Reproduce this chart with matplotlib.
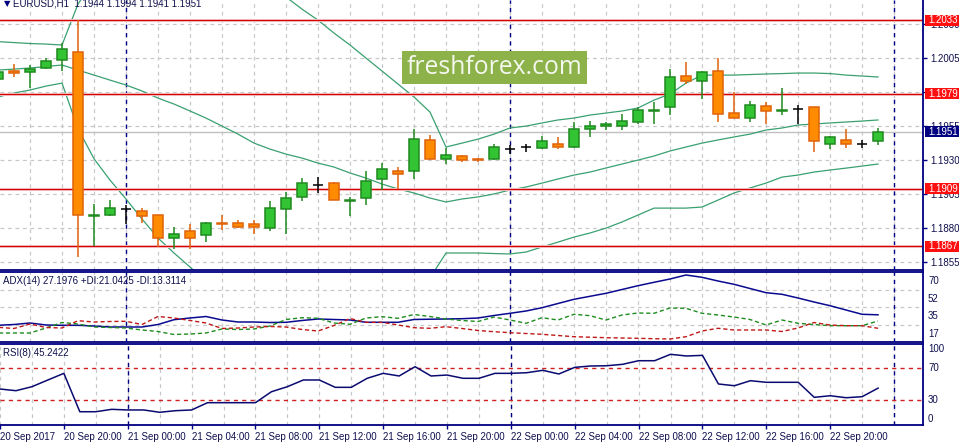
import numpy as np
import matplotlib
matplotlib.use("Agg")
import matplotlib.pyplot as plt
from matplotlib.patches import Rectangle
from matplotlib import transforms as mtrans

plt.rcParams['font.family'] = ['Liberation Sans', 'DejaVu Sans']

# ---------------- data (EURUSD H1, 20 Sep 16:00 .. 22 Sep 23:00) ----------------
opens = [1.1990, 1.1996, 1.1995, 1.1998, 1.2004, 1.2010, 1.1889, 1.1890, 1.1894, 1.1893,
         1.1890, 1.1873, 1.1878, 1.1875, 1.1884, 1.1884, 1.1883, 1.1880, 1.1894, 1.1903,
         1.1912, 1.1913, 1.1900, 1.1902, 1.1916, 1.1922, 1.1922, 1.1945, 1.1931, 1.1933,
         1.1931, 1.1931, 1.1938, 1.1940, 1.1939, 1.1942, 1.1940, 1.1953, 1.1955, 1.1955,
         1.1958, 1.1966, 1.1969, 1.1992, 1.1988, 1.1996, 1.1965, 1.1961, 1.1970, 1.1966,
         1.1968, 1.1969, 1.1942, 1.1945, 1.1942, 1.1944]
highs = [1.1997, 1.2001, 1.2000, 1.2005, 1.2016, 1.2033, 1.1898, 1.1901, 1.1897, 1.1895,
         1.1890, 1.1881, 1.1883, 1.1885, 1.1890, 1.1886, 1.1886, 1.1900, 1.1907, 1.1917,
         1.1918, 1.1914, 1.1903, 1.1922, 1.1928, 1.1925, 1.1953, 1.1949, 1.1939, 1.1934,
         1.1932, 1.1942, 1.1941, 1.1942, 1.1948, 1.1947, 1.1958, 1.1959, 1.1958, 1.1964,
         1.1969, 1.1973, 1.1997, 1.2002, 1.1996, 1.2005, 1.1980, 1.1974, 1.1973, 1.1983,
         1.1971, 1.1969, 1.1948, 1.1953, 1.1945, 1.1954]
lows = [1.1988, 1.1991, 1.1983, 1.1997, 1.1996, 1.1859, 1.1867, 1.1889, 1.1883, 1.1884,
        1.1866, 1.1865, 1.1865, 1.1870, 1.1879, 1.1880, 1.1876, 1.1878, 1.1876, 1.1900,
        1.1906, 1.1901, 1.1889, 1.1897, 1.1908, 1.1909, 1.1916, 1.1930, 1.1927, 1.1929,
        1.1929, 1.1930, 1.1935, 1.1936, 1.1938, 1.1938, 1.1939, 1.1947, 1.1952, 1.1952,
        1.1957, 1.1957, 1.1963, 1.1986, 1.1975, 1.1958, 1.1961, 1.1958, 1.1957, 1.1963,
        1.1957, 1.1936, 1.1938, 1.1939, 1.1939, 1.1941]
closes = [1.1995, 1.1994, 1.1997, 1.2003, 1.2012, 1.1890, 1.1890, 1.1895, 1.1894, 1.1889,
          1.1873, 1.1876, 1.1873, 1.1884, 1.1883, 1.1881, 1.1881, 1.1895, 1.1902, 1.1913,
          1.1912, 1.1901, 1.1901, 1.1915, 1.1924, 1.1920, 1.1946, 1.1931, 1.1934, 1.1930,
          1.1930, 1.1940, 1.1938, 1.1940, 1.1944, 1.1940, 1.1953, 1.1955, 1.1957, 1.1959,
          1.1967, 1.1967, 1.1991, 1.1988, 1.1995, 1.1964, 1.1961, 1.1971, 1.1966, 1.1967,
          1.1968, 1.1944, 1.1947, 1.1942, 1.1942, 1.1951]

bb_upper = [1.20173, 1.20166, 1.20159, 1.20155, 1.20148, 1.20449, 1.20626, 1.20662, 1.20684, 1.20721,
            1.20758, 1.20787, 1.20809, 1.20809, 1.20795, 1.20758, 1.20684, 1.20589, 1.20501, 1.20412,
            1.20331, 1.20236, 1.20148, 1.20052, 1.19957, 1.19861, 1.19766, 1.19655, 1.19398, 1.19427,
            1.19456, 1.19493, 1.19538, 1.19552, 1.19575, 1.19597, 1.19611, 1.19633, 1.19648, 1.19663,
            1.19685, 1.19743, 1.19788, 1.19868, 1.19927, 1.19927, 1.19927, 1.19931, 1.19935, 1.19938,
            1.19942, 1.19942, 1.19938, 1.19927, 1.19920, 1.19913]
bb_middle = [1.19964, 1.19971, 1.19979, 1.19990, 1.20001, 1.19964, 1.19927, 1.19890, 1.19854, 1.19810,
             1.19758, 1.19714, 1.19663, 1.19611, 1.19552, 1.19493, 1.19427, 1.19383, 1.19346, 1.19317,
             1.19280, 1.19251, 1.19207, 1.19170, 1.19126, 1.19090, 1.19060, 1.19023, 1.18994, 1.19016,
             1.19031, 1.19053, 1.19082, 1.19104, 1.19133, 1.19163, 1.19192, 1.19214, 1.19244, 1.19273,
             1.19302, 1.19332, 1.19369, 1.19398, 1.19427, 1.19450, 1.19472, 1.19493, 1.19523, 1.19538,
             1.19560, 1.19567, 1.19575, 1.19582, 1.19589, 1.19597]
bb_lower = [1.19766, 1.19795, 1.19817, 1.19846, 1.19868, 1.19533, 1.19312, 1.19155, 1.19016, 1.18869,
            1.18729, 1.18619, 1.18516, 1.18413, 1.18310, 1.18230, 1.18171, 1.18178, 1.18193, 1.18222,
            1.18230, 1.18266, 1.18266, 1.18288, 1.18296, 1.18318, 1.18354, 1.18435, 1.18619, 1.18619,
            1.18619, 1.18615, 1.18612, 1.18626, 1.18663, 1.18699, 1.18736, 1.18766, 1.18802, 1.18847,
            1.18898, 1.18949, 1.18949, 1.18949, 1.18957, 1.19008, 1.19060, 1.19097, 1.19133, 1.19177,
            1.19192, 1.19214, 1.19229, 1.19243, 1.19258, 1.19273]

adx = [16.7, 17.5, 19, 17, 16.7, 16.7, 16, 15, 15, 15, 17.5, 22.3, 24, 25.5, 22, 20, 20, 19.5, 19.7, 21.5,
       23, 22.5, 22, 19.7, 19.7, 19.7, 22.5, 22.8, 23, 23.3, 24, 26.5, 28.7, 31, 34.3, 38.5, 42.7, 45.7,
       48.7, 52.5, 56.3, 59.7, 63, 67, 64.7, 61, 57.7, 53.5, 49.3, 47.7, 44, 40, 36.3, 32, 27.7, 27.2]
plus_di = [9, 9, 9, 14, 19.5, 18, 15, 14.5, 14, 12, 10.5, 7.5, 8, 9, 13, 12.5, 13, 16, 22.5, 24.3,
           23.7, 19, 17.7, 24, 25.3, 23.7, 27.5, 25.5, 23, 21.5, 20.5, 25, 22, 18.7, 24.3, 22, 27.7, 26.3,
           22, 27, 29, 28.7, 34, 33.7, 28.7, 27, 25, 22.5, 17, 22, 18.7, 17.5, 16.3, 16.3, 16.3, 21]
minus_di = [14.7, 13.5, 18, 14.5, 14, 21.3, 20, 20.5, 20.7, 17.5, 25.5, 24, 21.5, 19, 13.5, 14, 15, 15.5,
            15, 12.5, 11, 16.5, 23.5, 19.7, 19.7, 17, 14.3, 13.7, 15.3, 13.5, 11.5, 10.3, 9.3, 8.5, 7.7,
            6.5, 5.3, 4.8, 4.3, 4, 3.7, 3.3, 3, 5.3, 11, 13.7, 12, 12, 12, 10.5, 14, 19.5, 17, 16.3, 16.3, 13.7]
rsi = [44.1, 42, 47, 55.4, 63.7, 15.7, 15.7, 18.7, 17.9, 17.9, 15, 17, 17.9, 27, 27, 27, 27, 40.7, 47,
       55.4, 55.4, 46.2, 46.2, 57.5, 63.7, 60.4, 72, 60.4, 61.6, 57.5, 57.5, 63.7, 63.7, 64.5, 67.5, 62.9,
       71.2, 72.9, 73.2, 75, 79.5, 79.5, 87.5, 85.4, 86.2, 50.4, 48.2, 54.5, 52.5, 52.5, 52.5, 33.7, 35.7,
       33.2, 34.5, 45.2]

time_labels = ["20 Sep 2017", "20 Sep 20:00", "21 Sep 00:00", "21 Sep 04:00", "21 Sep 08:00",
               "21 Sep 12:00", "21 Sep 16:00", "21 Sep 20:00", "22 Sep 00:00", "22 Sep 04:00",
               "22 Sep 08:00", "22 Sep 12:00", "22 Sep 16:00", "22 Sep 20:00"]
day_starts = [8, 32, 56]          # bar index of 21 Sep, 22 Sep, 23 Sep 00:00

price_ticks = [1.2030, 1.2005, 1.1980, 1.1955, 1.1930, 1.1905, 1.1880, 1.1855]
sr_levels = [1.2033, 1.1979, 1.1909, 1.1867]
last_price = 1.1951
adx_ticks = [70, 52, 35, 17]
rsi_levels = [70, 30]
rsi_ticks = [100, 70, 30, 0]

header = "EURUSD,H1  1.1944 1.1994 1.1941 1.1951"
adx_title = "ADX(14) 27.1976 +DI:21.0425 -DI:13.3114"
rsi_title = "RSI(8) 45.2422"
watermark = "freshforex.com"

# ---------------- figure ----------------
W, H = 959, 445
fig = plt.figure(figsize=(W / 100, H / 100), dpi=100)
fig.patch.set_facecolor('white')

AX_R = 923
NAVY = '#000080'
TXT = '#10104e'
GRID = '#c8c8c8'
FS = 7.0


def add_ax(top, bottom):
    return fig.add_axes([0, 1 - bottom / H, AX_R / W, (bottom - top) / H])


ax = add_ax(0, 270)
ax_adx = add_ax(272, 341.5)
ax_rsi = add_ax(344, 425)

x = np.arange(len(opens))
XLIM = (0.125, 57.8125)

for a in (ax, ax_adx, ax_rsi):
    a.set_xlim(*XLIM)
    a.set_facecolor('white')
    a.spines['left'].set_visible(False)
    for s in ('top', 'bottom', 'right'):
        a.spines[s].set_color(NAVY)
        a.spines[s].set_linewidth(1.3)
    for gx in range(0, 58, 2):
        a.axvline(gx, color=GRID, lw=0.9, ls=(0, (3, 3)), zorder=0)
    for dx in day_starts:
        a.axvline(dx, color=NAVY, lw=1.0, ls=(0, (3, 3)), zorder=1)
    a.yaxis.tick_right()
    a.tick_params(axis='y', length=0, labelsize=FS, labelcolor=TXT, pad=5)
    a.tick_params(axis='x', bottom=False, labelbottom=False)
ax.spines['top'].set_visible(False)

# ---------------- main price panel ----------------
YMIN, YMAX = 1.18494, 1.20479
ax.set_ylim(YMIN, YMAX)
for p in price_ticks:
    ax.axhline(p, color=GRID, lw=0.9, ls=(0, (3, 3)), zorder=0)
ax.set_yticks(price_ticks)
ax.set_yticklabels([f"{p:.4f}" for p in price_ticks])
ax.tick_params(axis='y', length=3, width=1, color=NAVY, pad=2)

ax.axhline(last_price, color='#c0c0c0', lw=1.0, zorder=0.5)

BAND = '#3aa070'
for band in (bb_upper, bb_middle, bb_lower):
    ax.plot(x, band, color=BAND, lw=0.9, zorder=2)

for lv in sr_levels:
    ax.axhline(lv, color='#f7d0d0', lw=2.2, zorder=2.3)
    ax.axhline(lv, color='#d40000', lw=0.9, zorder=2.4)

o = np.array(opens); c = np.array(closes); hi = np.array(highs); lo = np.array(lows)
up = c > o
dn = c < o
dj = c == o
BW = 0.62
BULL, BULL_E = '#33c433', '#1f8a1f'
BEAR, BEAR_E = '#ff8c00', '#e0620a'
ax.vlines(x[up], lo[up], hi[up], color=BULL_E, lw=1.1, zorder=3)
ax.bar(x[up], c[up] - o[up], bottom=o[up], width=BW, color=BULL, edgecolor=BULL_E, lw=1.1, zorder=4)
ax.vlines(x[dn], lo[dn], hi[dn], color=BEAR_E, lw=1.1, zorder=3)
ax.bar(x[dn], o[dn] - c[dn], bottom=c[dn], width=BW, color=BEAR, edgecolor=BEAR_E, lw=1.1, zorder=4)
ax.vlines(x[dj], lo[dj], hi[dj], color='black', lw=1.1, zorder=3)
ax.hlines(o[dj], x[dj] - 0.34, x[dj] + 0.34, color='black', lw=1.1, zorder=4)

dpp = (YMAX - YMIN) / 270.0
tr_box = mtrans.blended_transform_factory(ax.transAxes, ax.transData)


def price_box(val, fc):
    r = Rectangle((1 + 2 / AX_R, val - 5.5 * dpp), 40 / AX_R, 11 * dpp, transform=tr_box,
                  facecolor=fc, edgecolor='none', clip_on=False, zorder=10)
    ax.add_patch(r)
    ax.text(1 + 5 / AX_R, val, f"{val:.4f}", transform=tr_box, ha='left', va='center',
            color='white', fontsize=FS, clip_on=False, zorder=11)


for lv in sr_levels:
    price_box(lv, '#ff1010')
price_box(last_price, '#000080')

# ---------------- ADX panel ----------------
ax_adx.set_ylim(0.5, 70)
for lv in adx_ticks[1:]:
    ax_adx.axhline(lv, color=GRID, lw=0.9, ls=(0, (3, 3)), zorder=0)
ax_adx.set_yticks([])
tr_adx = mtrans.blended_transform_factory(ax_adx.transAxes, ax_adx.transData)
tr_adx = mtrans.offset_copy(tr_adx, fig=fig, x=0, y=-8.7, units='dots')
for lv in adx_ticks:
    ax_adx.text(1 + 5 / AX_R, lv, str(lv), transform=tr_adx, ha='left', va='center',
                fontsize=FS, color=TXT, clip_on=False)
ax_adx.plot(x, adx, color='#0a0a90', lw=1.1, zorder=3)
ax_adx.plot(x, plus_di, color='#1e8c1e', lw=1.0, ls=(0, (3, 2)), zorder=3)
ax_adx.plot(x, minus_di, color='#c01818', lw=1.0, ls=(0, (3, 2)), zorder=3)
ax_adx.text(3 / AX_R, 1 - 9 / 69.5, adx_title, transform=ax_adx.transAxes, ha='left', va='center',
            fontsize=FS, color=TXT)

# ---------------- RSI panel ----------------
ax_rsi.set_ylim(-0.9, 100.4)
ax_rsi.set_yticks([])
for lv in rsi_levels:
    ax_rsi.axhline(lv, color='#d02020', lw=1.0, ls=(0, (3, 3)), zorder=1)
tr_rsi = mtrans.blended_transform_factory(ax_rsi.transAxes, ax_rsi.transData)
for lv in rsi_ticks:
    va = 'top' if lv == 100 else ('bottom' if lv == 0 else 'center')
    ax_rsi.text(1 + 5 / AX_R, lv, str(lv), transform=tr_rsi, ha='left', va=va,
                fontsize=FS, color=TXT, clip_on=False)
ax_rsi.plot(x, rsi, color='#0a0a70', lw=1.1, zorder=3)
ax_rsi.text(3 / AX_R, 1 - 9.5 / 81, rsi_title, transform=ax_rsi.transAxes, ha='left', va='center',
            fontsize=FS, color=TXT)

ax_rsi.set_xticks(np.arange(0, 4 * len(time_labels), 4))
ax_rsi.set_xticklabels(time_labels)
ax_rsi.tick_params(axis='x', bottom=True, labelbottom=True, length=3, width=1, color=NAVY,
                   labelsize=FS, labelcolor=TXT, pad=2)
for lab in ax_rsi.get_xticklabels():
    lab.set_ha('left')

# ---------------- header & watermark ----------------
fig.text(4 / W, 1 - 4 / H, "\u25bc", family='DejaVu Sans', fontsize=6, color=NAVY, ha='left', va='center')
fig.text(13 / W, 1 - 4 / H, header, fontsize=FS, color=TXT, ha='left', va='center')

fig.patches.append(Rectangle((401.7 / W, 1 - 84.3 / H), 185 / W, 33.3 / H, transform=fig.transFigure,
                             facecolor='#8cb249', edgecolor='none', zorder=20, figure=fig))
fig.text(494 / W, 1 - 67.5 / H, watermark, family=['Open Sans', 'DejaVu Sans'], fontsize=17.8,
         color='#f4f8ee', ha='center', va='center', zorder=21)

fig.savefig('out.png', dpi=100, facecolor='white')
